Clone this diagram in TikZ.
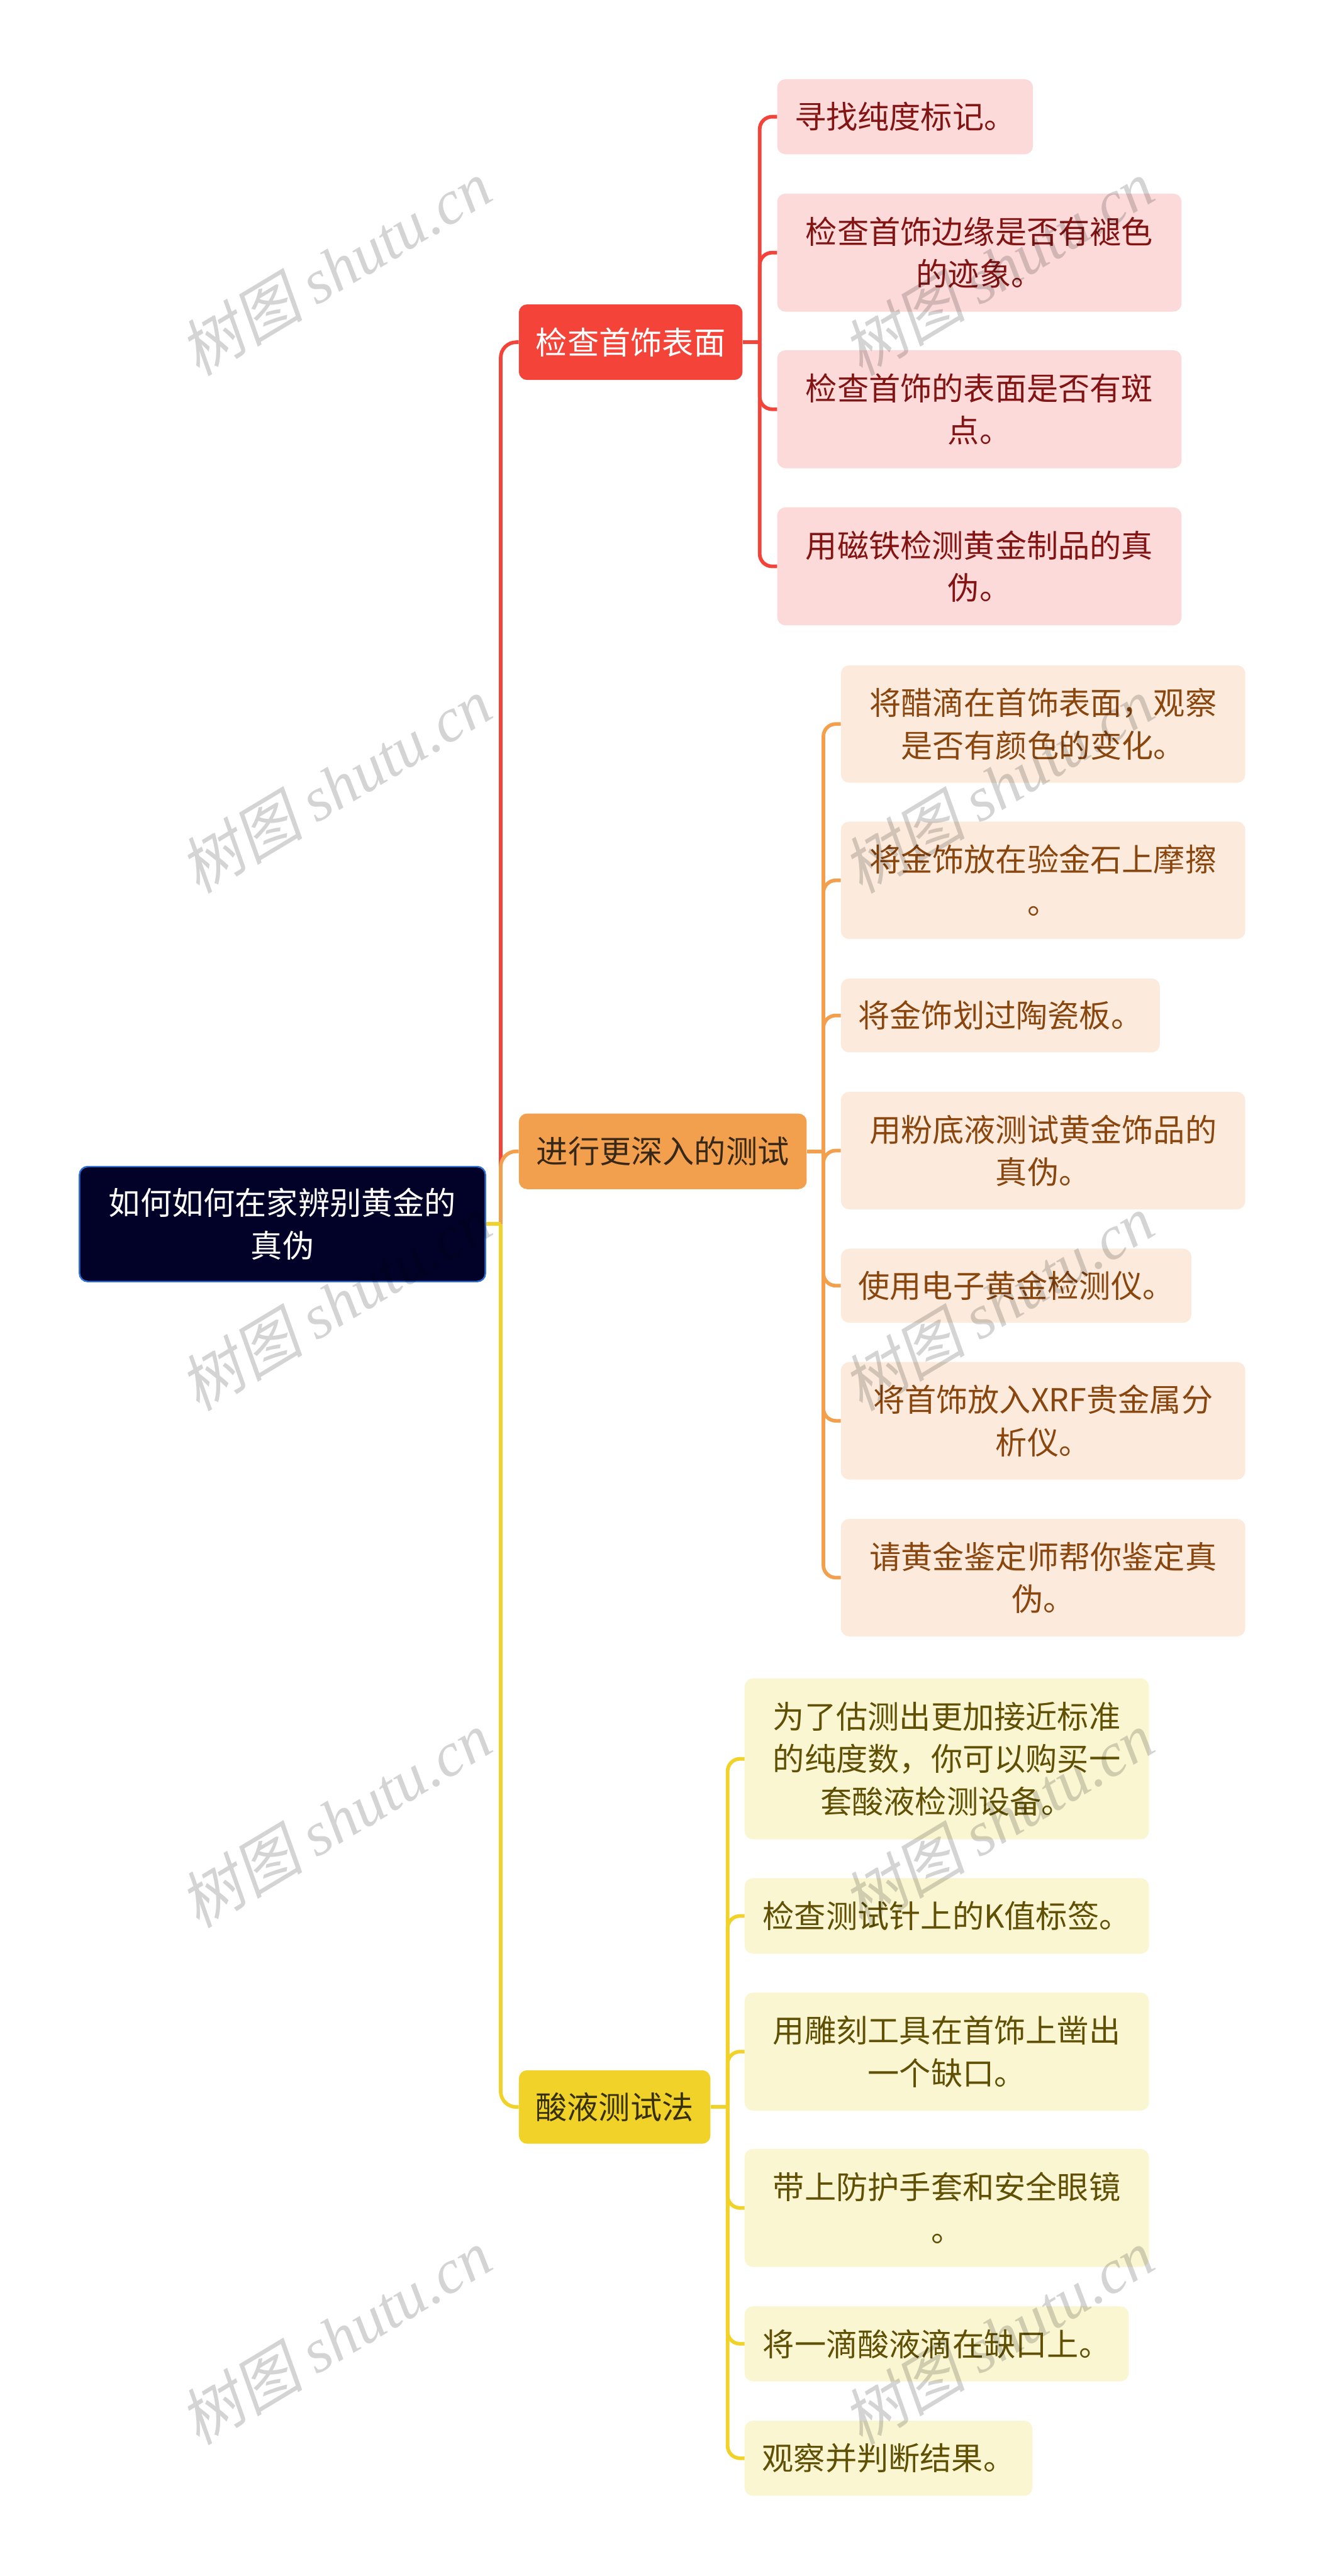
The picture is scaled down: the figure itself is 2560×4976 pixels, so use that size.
\documentclass[tikz,border=0pt]{standalone}
\usepackage{fontspec}
\setmainfont{Noto Sans CJK SC}
\newfontfamily\wmcjk[FakeSlant=0.2]{Noto Sans CJK SC}
\newfontfamily\wmlat{Liberation Serif}
\definecolor{croot}{RGB}{2,2,40}
\definecolor{crootb}{RGB}{45,110,215}
\definecolor{cred}{RGB}{244,68,58}
\definecolor{corange}{RGB}{243,160,78}
\definecolor{cyellow}{RGB}{240,210,40}
\definecolor{credl}{RGB}{253,218,218}
\definecolor{credt}{RGB}{130,20,20}
\definecolor{corl}{RGB}{252,235,220}
\definecolor{cort}{RGB}{138,70,15}
\definecolor{cyel}{RGB}{251,246,210}
\definecolor{cyet}{RGB}{95,80,5}
\definecolor{cdarko}{RGB}{55,40,25}
\definecolor{cdarky}{RGB}{55,48,10}
\tikzset{
  base/.style={rectangle, rounded corners=16pt, inner sep=0pt, align=center,
    font=\fontsize{61}{82}\selectfont},
  rootbox/.style={base, fill=croot, draw=crootb, line width=3pt, text=white},
  bredbox/.style={base, fill=cred, text=white},
  borabox/.style={base, fill=corange, text=cdarko},
  byelbox/.style={base, fill=cyellow, text=cdarky},
  credbox/.style={base, fill=credl, text=credt},
  corabox/.style={base, fill=corl, text=cort},
  cyelbox/.style={base, fill=cyel, text=cyet},
  rline/.style={draw=cred, line width=7pt},
  oline/.style={draw=corange, line width=7pt},
  yline/.style={draw=cyellow, line width=7pt},
  wm/.style={rotate=31, text=black, text opacity=0.17, inner sep=0pt,
    font=\fontsize{120}{126}\selectfont}
}
\begin{document}
\begin{tikzpicture}[x=1pt,y=-1pt]
\useasboundingbox (0,0) rectangle (2560,4976);
% root and branches
\node[rootbox, minimum width=784pt, minimum height=222pt] (root) at (545.5,2364.5) {如何如何在家辨别黄金的\\真伪};
\node[bredbox, minimum width=432pt, minimum height=146pt] (b1) at (1218,661) {检查首饰表面};
\node[borabox, minimum width=556pt, minimum height=146pt] (b2) at (1280,2224) {进行更深入的测试};
\node[byelbox, minimum width=370pt, minimum height=142pt] (b3) at (1187,4070) {酸液测试法};
% branch 1 children
\node[credbox, minimum width=494pt, minimum height=145pt] (c1) at (1748,225.5) {寻找纯度标记。};
\node[credbox, minimum width=781pt, minimum height=228pt] (c2) at (1891.5,488) {检查首饰边缘是否有褪色\\的迹象。};
\node[credbox, minimum width=781pt, minimum height=228pt] (c3) at (1891.5,790.5) {检查首饰的表面是否有斑\\点。};
\node[credbox, minimum width=781pt, minimum height=228pt] (c4) at (1891.5,1094) {用磁铁检测黄金制品的真\\伪。};
% branch 2 children
\node[corabox, minimum width=781pt, minimum height=227pt] (d1) at (2014.5,1398.5) {将醋滴在首饰表面，观察\\是否有颜色的变化。};
\node[corabox, minimum width=781pt, minimum height=227pt] (d2) at (2014.5,1700.5) {将金饰放在验金石上摩擦\\。};
\node[corabox, minimum width=616pt, minimum height=143pt] (d3) at (1932,1961.5) {将金饰划过陶瓷板。};
\node[corabox, minimum width=781pt, minimum height=227pt] (d4) at (2014.5,2222.5) {用粉底液测试黄金饰品的\\真伪。};
\node[corabox, minimum width=677pt, minimum height=143pt] (d5) at (1962.5,2483.5) {使用电子黄金检测仪。};
\node[corabox, minimum width=781pt, minimum height=227pt] (d6) at (2014.5,2744.5) {将首饰放入XRF贵金属分\\析仪。};
\node[corabox, minimum width=781pt, minimum height=227pt] (d7) at (2014.5,3047.5) {请黄金鉴定师帮你鉴定真\\伪。};
% branch 3 children
\node[cyelbox, minimum width=781pt, minimum height=311pt] (e1) at (1828.5,3397.5) {为了估测出更加接近标准\\的纯度数，你可以购买一\\套酸液检测设备。};
\node[cyelbox, minimum width=781pt, minimum height=146pt] (e2) at (1828.5,3701) {检查测试针上的K值标签。};
\node[cyelbox, minimum width=781pt, minimum height=228pt] (e3) at (1828.5,3963) {用雕刻工具在首饰上凿出\\一个缺口。};
\node[cyelbox, minimum width=781pt, minimum height=228pt] (e4) at (1828.5,4265) {带上防护手套和安全眼镜\\。};
\node[cyelbox, minimum width=742pt, minimum height=145pt] (e5) at (1809,4527.5) {将一滴酸液滴在缺口上。};
\node[cyelbox, minimum width=556pt, minimum height=145pt] (e6) at (1716,4748.5) {观察并判断结果。};
% trunk connectors
\path (root.east) ++(28,0) coordinate (j0);
\draw[rline, rounded corners=30pt] (j0) |- (b1.west);
\draw[oline, rounded corners=30pt] (j0) |- (b2.west);
\draw[yline, rounded corners=30pt] (j0) |- (b3.west);
\draw[yline] (root.east) -- (j0);
% branch 1 bus
\path (b1.east) ++(33,0) coordinate (k1);
\draw[rline] (b1.east) -- (k1);
\foreach \c in {c1,c2,c3,c4} \draw[rline, rounded corners=24pt] (k1) |- (\c.west);
% branch 2 bus
\path (b2.east) ++(32,0) coordinate (k2);
\draw[oline] (b2.east) -- (k2);
\foreach \c in {d1,d2,d3,d4,d5,d6,d7} \draw[oline, rounded corners=24pt] (k2) |- (\c.west);
% branch 3 bus
\path (b3.east) ++(33,0) coordinate (k3);
\draw[yline] (b3.east) -- (k3);
\foreach \c in {e1,e2,e3,e4,e5,e6} \draw[yline, rounded corners=24pt] (k3) |- (\c.west);
% watermarks
\foreach \i/\yy in {1/517,2/1517,3/2516,4/3515,5/4514}{
  \node[wm] (wl\i) at (647,\yy) {{\wmcjk 树图} {\wmlat\itshape shutu.cn}};
  \node[wm] (wr\i) at (1927,\yy) {{\wmcjk 树图} {\wmlat\itshape shutu.cn}};
}
\end{tikzpicture}
\end{document}
